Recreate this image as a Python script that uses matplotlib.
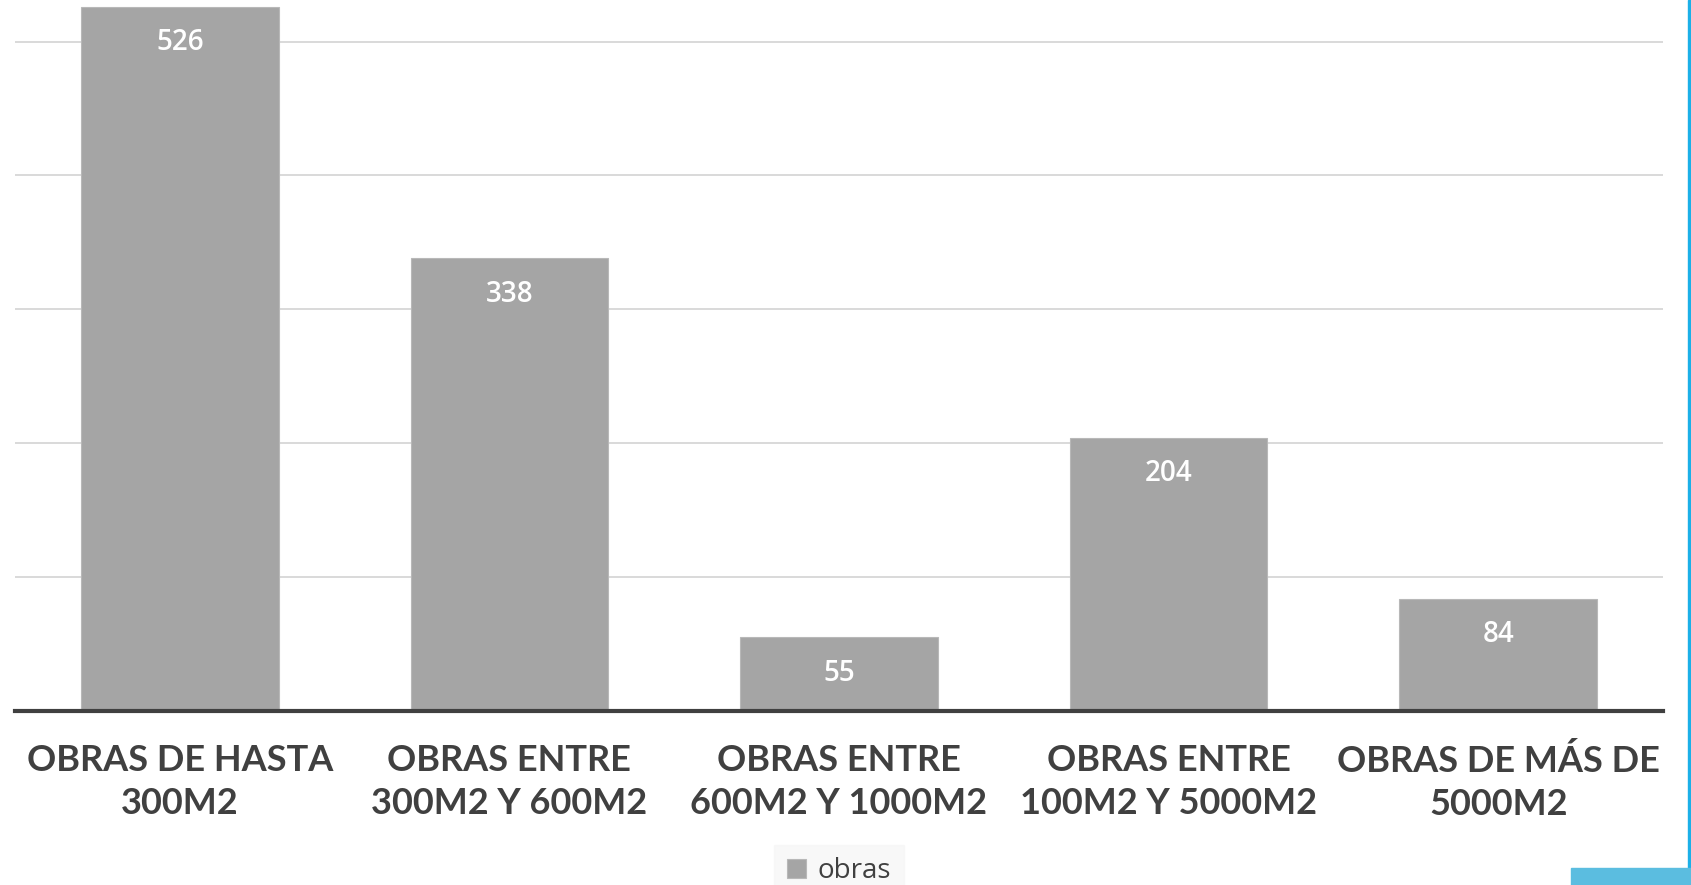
import matplotlib

matplotlib.use("Agg")
import matplotlib.pyplot as plt  # noqa: E402
from matplotlib.patches import Rectangle  # noqa: E402

categories = [
    "OBRAS DE HASTA\n300M2",
    "OBRAS ENTRE\n300M2 Y 600M2",
    "OBRAS ENTRE\n600M2 Y 1000M2",
    "OBRAS ENTRE\n100M2 Y 5000M2",
    "OBRAS DE MÁS DE\n5000M2",
]
obras = [526, 338, 55, 204, 84]
yticks = [0, 100, 200, 300, 400, 500]

W, H = 1691, 885
fig = plt.figure(figsize=(W / 100, H / 100), dpi=100)
ax = fig.add_axes([15 / W, 1 - 711 / H, (1663 - 15) / W, 711 / H])

x = range(len(categories))
bars = ax.bar(x, obras, width=0.6, color="#a5a5a5", edgecolor="#b8b8b8",
              linewidth=0.8, label="obras", zorder=3)
for rect, v in zip(bars, obras):
    ax.annotate(str(v), (rect.get_x() + rect.get_width() / 2, v),
                xytext=(0, -26), textcoords="offset points", ha="center", va="center",
                color="white", fontsize=20, family="Open Sans", fontweight="semibold",
                zorder=4)

ax.set_xlim(-0.5, len(categories) - 0.5)
ax.set_ylim(0, 531)
ax.set_yticks(yticks)
ax.yaxis.grid(True, color="#d9d9d9", linewidth=1.4, zorder=0)
ax.tick_params(axis="y", left=False, labelleft=False)
ax.tick_params(axis="x", bottom=False, pad=20)
ax.set_xticks(list(x))
ax.set_xticklabels(categories, fontsize=26, family="Lato", fontweight="bold",
                   color="#404040", linespacing=1.4)
for s in ["top", "right", "left"]:
    ax.spines[s].set_visible(False)
ax.spines["bottom"].set_color("#404040")
ax.spines["bottom"].set_linewidth(3)
ax.spines["bottom"].set_zorder(5)

leg = fig.legend(handles=[bars], labels=["obras"], loc="center",
                 bbox_to_anchor=(839 / W, 1 - 871 / H), frameon=True,
                 fontsize=20, handlelength=0.7, handleheight=0.7, handletextpad=0.4,
                 borderpad=0.45, fancybox=False)
leg.get_frame().set_facecolor("#f7f7f7")
leg.get_frame().set_edgecolor("#f7f7f7")
for t in leg.get_texts():
    t.set_color("#404040")
    t.set_family("Open Sans")

# slide decorations at the right edge
fig.patches.append(Rectangle((1688 / W, 0), 3 / W, 1, transform=fig.transFigure,
                             color="#1cb0e8", zorder=10))
fig.patches.append(Rectangle((1571 / W, 0), 120 / W, 17 / H, transform=fig.transFigure,
                             color="#5bbde0", zorder=10))

fig.savefig("out.png", dpi=100)
plt.close(fig)
